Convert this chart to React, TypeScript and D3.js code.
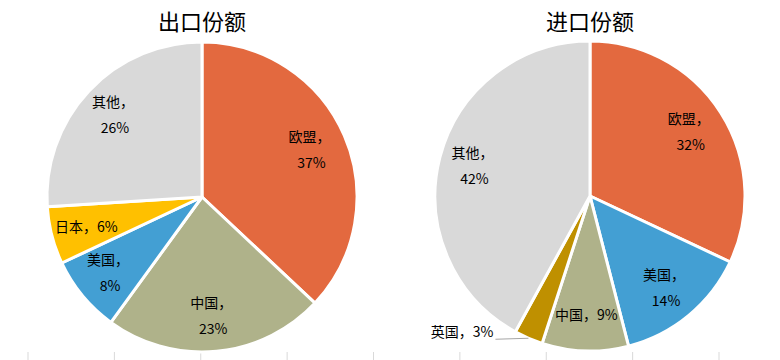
import { useEffect, useRef } from "react";
import * as d3 from "d3";

const W = 780;
const H = 360;

const exportNames = ["欧盟", "中国", "美国", "日本", "其他"];
const exportValues = [37, 23, 8, 6, 26];
const exportColors = ["#E3693F", "#AFB28A", "#439FD3", "#FFC000", "#D9D9D9"];
const exportInline = [false, false, false, true, false];

const importNames = ["欧盟", "美国", "中国", "英国", "其他"];
const importValues = [32, 14, 9, 3, 42];
const importColors = ["#E3693F", "#439FD3", "#AFB28A", "#BF9000", "#D9D9D9"];
const importInline = [false, false, true, false, false];
const importOutside = [false, false, false, true, false];

const bottomTicks = [0, 1, 2, 3, 4, 5, 6, 7, 8];

const FONT = "'Noto Sans CJK SC', 'Noto Sans', sans-serif";

function drawPie(g, cfg) {
  const { cx, cy, r, title, names, values, colors, inline, outside } = cfg;
  const data = names.map((n, i) => ({ name: n, value: values[i], color: colors[i], inline: inline[i], outside: outside ? outside[i] : false }));

  const pie = d3.pie().value(d => d.value).sort(null);
  const arc = d3.arc().innerRadius(0).outerRadius(r);
  const labelArc = d3.arc().innerRadius(r * 0.77).outerRadius(r * 0.77);

  const pg = g.append("g").attr("transform", `translate(${cx},${cy})`);
  const arcs = pie(data);

  pg.selectAll("path.slice")
    .data(arcs)
    .join("path")
    .attr("class", "slice")
    .attr("d", arc)
    .attr("fill", d => d.data.color)
    .attr("stroke", "#fff")
    .attr("stroke-width", 3)
    .attr("stroke-linejoin", "round");

  arcs.forEach(a => {
    const txt = `${a.data.name}，`;
    const pct = `${a.data.value}%`;
    if (a.data.outside) {
      const mid = (a.startAngle + a.endAngle) / 2;
      const px = Math.sin(mid) * r;
      const py = -Math.cos(mid) * r;
      pg.append("line")
        .attr("x1", px).attr("y1", py)
        .attr("x2", px - 33).attr("y2", py + 1)
        .attr("stroke", "#A6A6A6")
        .attr("stroke-width", 1);
      pg.append("text")
        .attr("x", px - 35).attr("y", py - 1)
        .attr("text-anchor", "end")
        .style("font-size", "14px")
        .style("font-family", FONT)
        .attr("fill", "#000")
        .text(txt + pct);
      return;
    }
    const [lx, ly] = labelArc.centroid(a);
    if (a.data.inline) {
      pg.append("text")
        .attr("x", lx).attr("y", ly + 5)
        .attr("text-anchor", "middle")
        .style("font-size", "14px")
        .style("font-family", FONT)
        .attr("fill", "#000")
        .text(txt + pct);
    } else {
      pg.append("text")
        .attr("x", lx - 2).attr("y", ly - 8)
        .attr("text-anchor", "middle")
        .style("font-size", "14px")
        .style("font-family", FONT)
        .attr("fill", "#000")
        .text(txt);
      pg.append("text")
        .attr("x", lx).attr("y", ly + 18)
        .attr("text-anchor", "middle")
        .style("font-size", "14px")
        .style("font-family", FONT)
        .attr("fill", "#000")
        .text(pct);
    }
  });

  g.append("text")
    .attr("x", cx).attr("y", 30)
    .attr("text-anchor", "middle")
    .style("font-size", "22px")
    .style("font-family", FONT)
    .attr("fill", "#000")
    .text(title);
}

export default function App() {
  const ref = useRef<SVGSVGElement | null>(null);

  useEffect(() => {
    const svg = d3.select(ref.current);
    svg.selectAll("*").remove();

    svg.append("rect").attr("width", W).attr("height", H).attr("fill", "#fff");

    // faint category ticks along the bottom
    const tx = d3.scaleLinear().domain([0, 8]).range([28, 719]);
    svg.append("g")
      .selectAll("line")
      .data(bottomTicks)
      .join("line")
      .attr("x1", d => tx(d)).attr("x2", d => tx(d))
      .attr("y1", 352).attr("y2", H)
      .attr("stroke", "#D9D9D9")
      .attr("stroke-width", 1);

    drawPie(svg, {
      cx: 202, cy: 197, r: 155, title: "出口份额",
      names: exportNames, values: exportValues, colors: exportColors, inline: exportInline,
    });
    drawPie(svg, {
      cx: 590, cy: 196, r: 155, title: "进口份额",
      names: importNames, values: importValues, colors: importColors, inline: importInline,
      outside: importOutside,
    });
  }, []);

  return (
    <svg
      ref={ref}
      width={W}
      height={H}
      style={{ position: "fixed", left: 0, top: 0, display: "block" }}
    />
  );
}
